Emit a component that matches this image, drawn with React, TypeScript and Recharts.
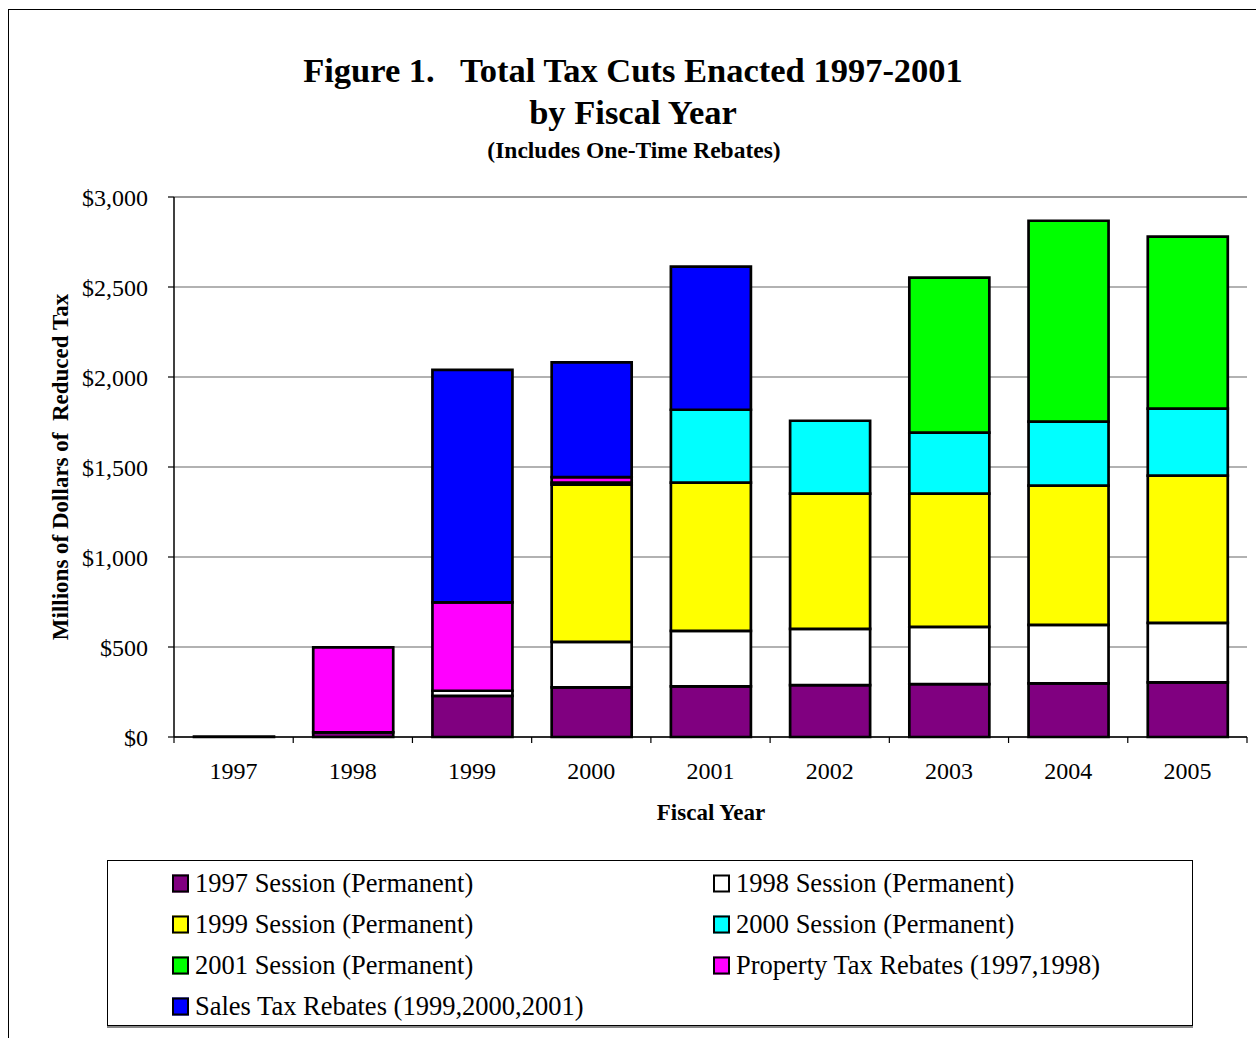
import { BarChart, Bar, XAxis, YAxis, CartesianGrid, ReferenceLine } from 'recharts';

const years = ['1997', '1998', '1999', '2000', '2001', '2002', '2003', '2004', '2005'];
const session1997 = [2, 26, 229, 276, 281, 288, 294, 298, 303];
const session1998 = [0, 0, 28, 253, 309, 313, 318, 325, 331];
const session1999 = [0, 0, 0, 873, 823, 751, 740, 773, 818];
const session2000 = [0, 0, 0, 12, 405, 405, 339, 356, 372];
const session2001 = [0, 0, 0, 0, 0, 0, 861, 1116, 956];
const propertyRebates = [0, 472, 491, 30, 0, 0, 0, 0, 0];
const salesRebates = [0, 0, 1292, 637, 795, 0, 0, 0, 0];
const yTicks = [0, 500, 1000, 1500, 2000, 2500, 3000];

const series = [
  { key: 's1997', name: '1997 Session (Permanent)', color: '#800080', values: session1997 },
  { key: 's1998', name: '1998 Session (Permanent)', color: '#FFFFFF', values: session1998 },
  { key: 's1999', name: '1999 Session (Permanent)', color: '#FFFF00', values: session1999 },
  { key: 's2000', name: '2000 Session (Permanent)', color: '#00FFFF', values: session2000 },
  { key: 's2001', name: '2001 Session (Permanent)', color: '#00FF00', values: session2001 },
  { key: 'prop', name: 'Property Tax Rebates (1997,1998)', color: '#FF00FF', values: propertyRebates },
  { key: 'sales', name: 'Sales Tax Rebates (1999,2000,2001)', color: '#0000FF', values: salesRebates },
];

const data = years.map((year, i) => {
  const row: Record<string, string | number> = { year };
  series.forEach((s) => {
    row[s.key] = s.values[i];
  });
  return row;
});

// legend order: two columns, row-major
const legendOrder = ['s1997', 's1998', 's1999', 's2000', 's2001', 'prop', 'sales'];

const CHART_W = 1256;
const CHART_H = 850;
const Y_AXIS_W = 174;
const RIGHT = 9;
const halfBand = (CHART_W - Y_AXIS_W - RIGHT) / years.length / 2;

const FONT = '"Liberation Serif", "Times New Roman", serif';

function YearTick(props: any) {
  const { x, y, payload, index } = props;
  const axisY = y - 25;
  return (
    <g>
      <line x1={x - halfBand} x2={x - halfBand} y1={axisY} y2={axisY + 6} stroke="#000" strokeWidth={1.2} />
      {index === years.length - 1 && (
        <line x1={x + halfBand} x2={x + halfBand} y1={axisY} y2={axisY + 6} stroke="#000" strokeWidth={1.2} />
      )}
      <text x={x} y={y} dy={17} textAnchor="middle" fontFamily={FONT} fontSize={24} fill="#000">
        {payload.value}
      </text>
    </g>
  );
}

export default function App() {
  return (
    <div style={{ position: 'absolute', left: 0, top: 0, width: 1256, height: 1038, background: '#fff', fontFamily: FONT, overflow: 'hidden' }}>
      <div style={{ position: 'absolute', left: 8, top: 9, right: -10, bottom: -10, borderTop: '1.5px solid #000', borderLeft: '1.5px solid #000' }} />
      <div style={{ position: 'absolute', left: 0, width: 1266, top: 49, textAlign: 'center', fontWeight: 'bold', fontSize: 34.5, lineHeight: '42px', whiteSpace: 'pre' }}>
        {'Figure 1.   Total Tax Cuts Enacted 1997-2001'}
      </div>
      <div style={{ position: 'absolute', left: 0, width: 1266, top: 91, textAlign: 'center', fontWeight: 'bold', fontSize: 34.5, lineHeight: '42px' }}>
        by Fiscal Year
      </div>
      <div style={{ position: 'absolute', left: 0, width: 1268, top: 136, textAlign: 'center', fontWeight: 'bold', fontSize: 23.5, lineHeight: '28px' }}>
        (Includes One-Time Rebates)
      </div>

      <div style={{ position: 'absolute', left: 0, top: 0 }}>
        <BarChart width={CHART_W} height={CHART_H} data={data} margin={{ top: 197, right: RIGHT, left: 0, bottom: 0 }} barSize={80}>
          <CartesianGrid vertical={false} stroke="#666" strokeWidth={1.2} />
          <XAxis
            dataKey="year"
            height={CHART_H - 737}
            axisLine={{ stroke: '#000', strokeWidth: 1.5 }}
            tickLine={false}
            tickSize={6}
            tickMargin={19}
            tick={<YearTick />}
            interval={0}
          />
          <YAxis
            width={Y_AXIS_W}
            domain={[0, 3000]}
            ticks={yTicks}
            interval={0}
            tickFormatter={(v) => `$${Number(v).toLocaleString('en-US')}`}
            axisLine={{ stroke: '#000', strokeWidth: 1.5 }}
            tickLine={{ stroke: '#000', strokeWidth: 1.2 }}
            tickSize={6}
            tickMargin={20}
            tick={{ fill: '#000', fontFamily: FONT, fontSize: 24 }}
          />
          <YAxis
            yAxisId="frame"
            orientation="right"
            width={0}
            domain={[0, 3000]}
            tick={false}
            tickLine={false}
            axisLine={{ stroke: '#999', strokeWidth: 2 }}
          />
          <ReferenceLine y={3000} stroke="#999" strokeWidth={2} />
          {series.map((s) => (
            <Bar key={s.key} dataKey={s.key} name={s.name} stackId="a" fill={s.color} stroke="#000" strokeWidth={2.7} isAnimationActive={false} />
          ))}
        </BarChart>
      </div>

      <div
        style={{
          position: 'absolute',
          left: 61,
          top: 467,
          transform: 'translate(-50%, -50%) rotate(-90deg)',
          fontWeight: 'bold',
          fontSize: 23,
          whiteSpace: 'pre',
        }}
      >
        {'Millions of Dollars of  Reduced Tax'}
      </div>
      <div style={{ position: 'absolute', left: 711, top: 813, transform: 'translate(-50%, -50%)', fontWeight: 'bold', fontSize: 23, whiteSpace: 'pre' }}>
        Fiscal Year
      </div>

      <div
        style={{
          position: 'absolute',
          left: 107,
          top: 860,
          width: 1084,
          height: 164,
          border: '1px solid #000',
          boxShadow: '0 2px 0 #888',
        }}
      >
        {legendOrder.map((key, i) => {
          const s = series.find((d) => d.key === key)!;
          const col = i % 2;
          const row = Math.floor(i / 2);
          return (
            <div
              key={key}
              style={{
                position: 'absolute',
                left: col === 0 ? 64 : 605,
                top: 22 + row * 41,
                transform: 'translateY(-50%)',
                display: 'flex',
                alignItems: 'center',
                fontSize: 26.5,
                whiteSpace: 'nowrap',
              }}
            >
              <span style={{ display: 'inline-block', width: 13, height: 14, background: s.color, border: '2px solid #000', marginRight: 6 }} />
              <span>{s.name}</span>
            </div>
          );
        })}
      </div>
    </div>
  );
}
